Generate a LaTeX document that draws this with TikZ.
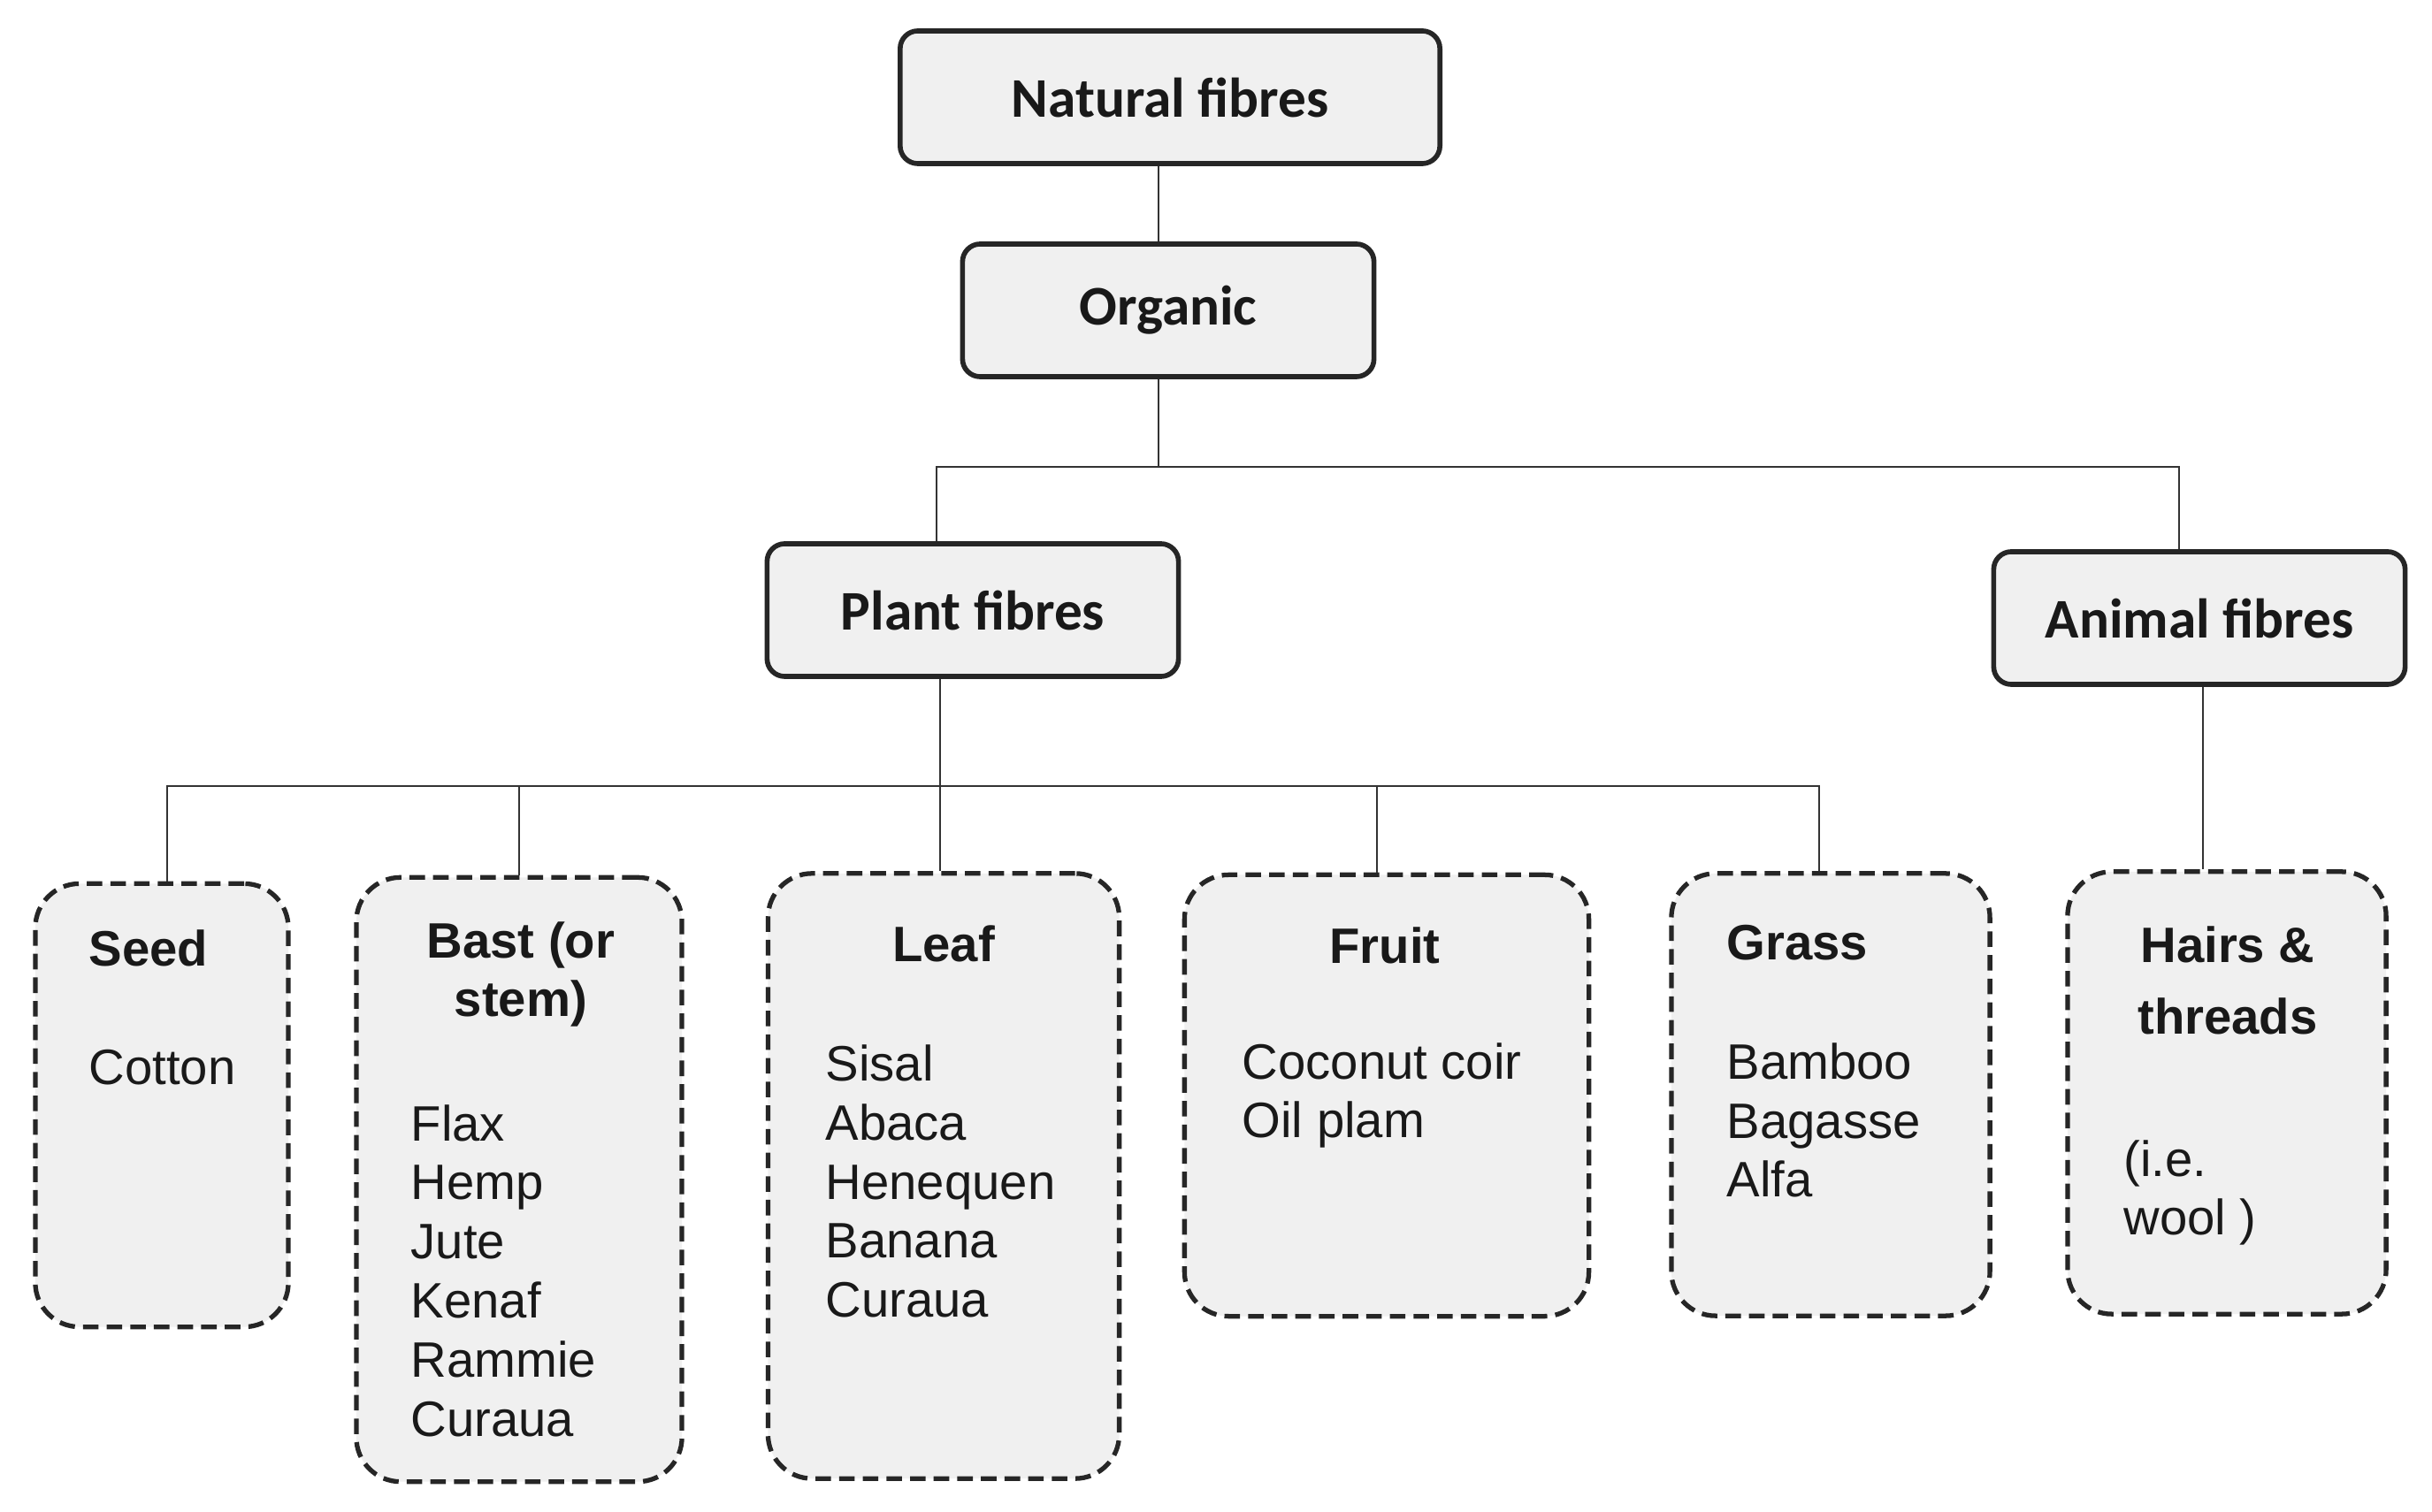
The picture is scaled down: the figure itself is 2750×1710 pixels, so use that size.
\documentclass[tikz,border=0pt]{standalone}
\usepackage{fontspec}
\setmainfont{Liberation Sans}
\newfontfamily\calibri{Carlito}
\usetikzlibrary{calc}
\definecolor{boxfill}{HTML}{F0F0F0}
\definecolor{linegray}{HTML}{333333}

\begin{document}
\begin{tikzpicture}[x=0.01cm, y=-0.01cm,
    topbox/.style={draw=black!85, line width=1.6pt, rounded corners=0.2cm, fill=boxfill, minimum width=#1, minimum height=1.5cm, inner sep=0pt, text=black!90, font=\calibri\bfseries\fontsize{18}{22}\selectfont},
    groupbox/.style={draw=black!85, line width=1.5pt, dash pattern=on 5pt off 2.6pt, rounded corners=0.5cm, fill=boxfill, inner sep=0pt},
    title/.style={inner sep=0pt, text=black!90, font=\bfseries\fontsize{16}{19}\selectfont},
    itemlist/.style={inner sep=0pt, align=left, anchor=west, text=black!90, font=\fontsize{16}{19}\selectfont},
    conn/.style={draw=linegray, line width=0.8pt}]
    \useasboundingbox (0,0) rectangle (2750,1710);

    % top boxes
    \node [topbox=6.1cm] (nat) at (1323,110) {Natural fibres};
    \node [topbox=4.65cm] (org) at (1321,351) {Organic};
    \node [topbox=4.65cm] (plant) at (1100,690) {Plant fibres};
    \node [topbox=4.65cm] (animal) at (2487,699) {Animal fibres};

    % groups
    \node [groupbox, minimum width=2.86cm, minimum height=5.01cm] (seed) at (183,1250) {};
    \node [groupbox, minimum width=3.68cm, minimum height=6.83cm] (bast) at (587,1334) {};
    \node [groupbox, minimum width=3.97cm, minimum height=6.84cm] (leaf) at (1067,1330) {};
    \node [groupbox, minimum width=4.57cm, minimum height=4.99cm] (fruit) at (1568,1239) {};
    \node [groupbox, minimum width=3.60cm, minimum height=5.00cm] (grass) at (2070,1238) {};
    \node [groupbox, minimum width=3.60cm, minimum height=5.00cm] (hairs) at (2518,1236) {};

    % junctions
    \coordinate (jtop) at (1310,528);
    \coordinate (jl) at (1059,528);
    \coordinate (jr) at (2464,528);
    \coordinate (jmid) at (1063,889);
    \coordinate (jseed) at (189,889);
    \coordinate (jfruit) at (1557,889);
    \coordinate (jgrass) at (2057,889);
    \coordinate (jhair) at (2491,889);

    \draw [conn] (nat.south -| jtop) -- (org.north -| jtop);
    \draw [conn] (org.south -| jtop) -- (jtop);
    \draw [conn] (plant.north -| jl) -- (jl) -- (jr) -- (animal.north -| jr);
    \draw [conn] (plant.south -| jmid) -- (jmid);
    \draw [conn] (seed.north -| jseed) -- (jseed) -- (jgrass) -- (grass.north -| jgrass);
    \draw [conn] (bast.north) -- (bast.north |- jmid);
    \draw [conn] (leaf.north -| jmid) -- (jmid);
    \draw [conn] (fruit.north -| jfruit) -- (jfruit);
    \draw [conn] (animal.south -| jhair) -- (hairs.north -| jhair);

    % group texts
    \node [title, anchor=west] (seedt) at (100,1072) {Seed};
    \node [itemlist] (seedl) at (100,1207) {Cotton};
    \node [title, align=center] (bastt) at (589,1102) {Bast (or\\stem)};
    \node [itemlist] (bastl) at (464,1437) {Flax\\Hemp\\Jute\\Kenaf\\Rammie\\Curaua};
    \node [title] (leaft) at (1067,1067) {Leaf};
    \node [itemlist] (leafl) at (933,1336) {Sisal\\Abaca\\Henequen\\Banana\\Curaua};
    \node [title] (fruitt) at (1566,1069) {Fruit};
    \node [itemlist] (fruitl) at (1404,1239) {Coconut coir\\Oil plam};
    \node [title, anchor=west] (grasst) at (1952,1066) {Grass};
    \node [itemlist] (grassl) at (1952,1267) {Bamboo\\Bagasse\\Alfa};
    \node [title, align=center, font=\bfseries\fontsize{16}{23}\selectfont] (hairst) at (2519,1109) {Hairs \&\\threads};
    \node [itemlist] (hairsl) at (2401,1349) {(i.e.\\wool )};
\end{tikzpicture}
\end{document}
